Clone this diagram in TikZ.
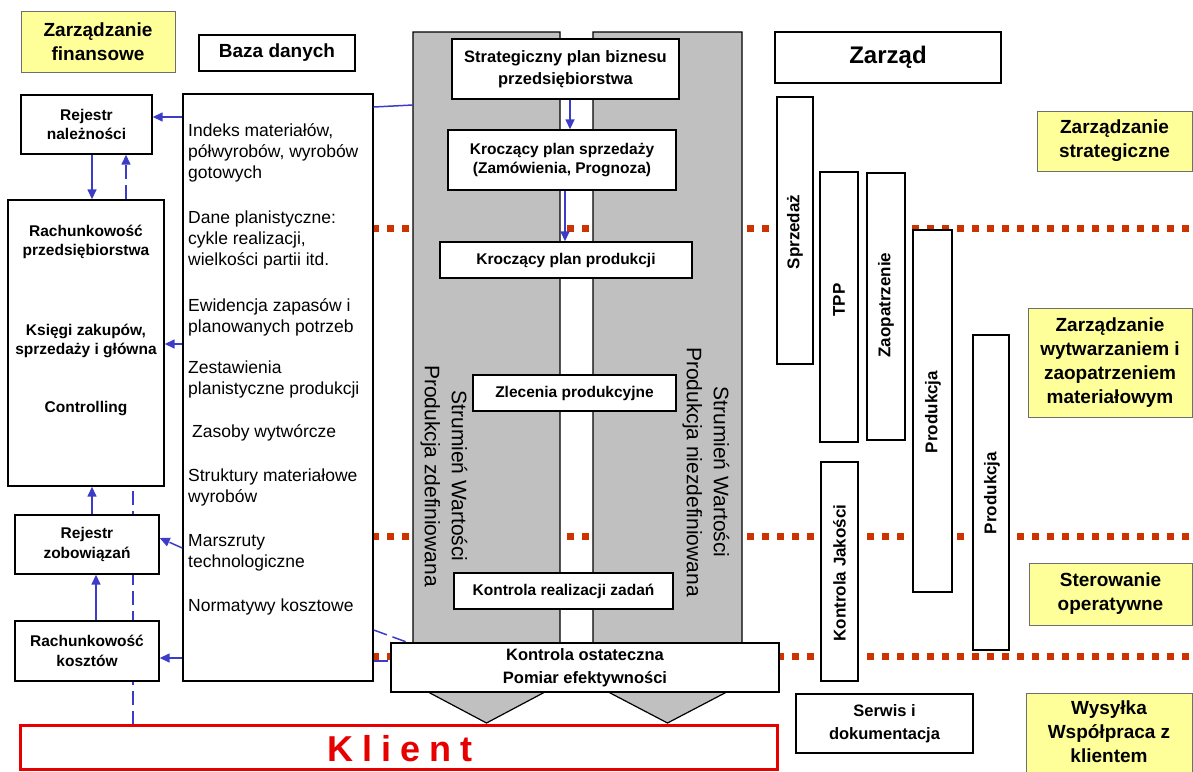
\documentclass[tikz,border=0pt]{standalone}
\usepackage{fontspec}
\setmainfont{Liberation Sans}
\usetikzlibrary{arrows.meta,calc}
\definecolor{yfill}{RGB}{255,255,153}
\definecolor{ybord}{RGB}{110,110,110}
\definecolor{gfill}{RGB}{192,192,192}
\definecolor{bline}{RGB}{60,60,200}
\definecolor{rdot}{RGB}{204,51,0}
\definecolor{kred}{RGB}{230,0,0}
\newcommand\fBig{\fontsize{19}{24}\selectfont\bfseries}
\newcommand\fLbl{\fontsize{15.5}{19.5}\selectfont\bfseries}
\newcommand\fMid{\fontsize{16.5}{22.5}\selectfont\bfseries}
\newcommand\fList{\fontsize{17.5}{21}\selectfont}
\newcommand\fStream{\fontsize{21}{27}\selectfont}
\newcommand\fRot{\fontsize{17}{20}\selectfont\bfseries}
\begin{document}
\begin{tikzpicture}[x=1pt,y=-1pt,
  box/.style={draw=black, fill=white, line width=1.4pt, inner sep=0pt, align=center},
  yellowbox/.style={draw=ybord, fill=yfill, line width=1pt, inner sep=0pt, align=center, font=\fBig},
  graybody/.style={draw=black, fill=gfill, line width=1.2pt, line join=miter},
  reddots/.style={draw=rdot, line width=7pt, dash pattern=on 7pt off 8pt},
  blarrow/.style={draw=bline, line width=1.5pt, -{Triangle[length=10pt,width=9pt]}},
  bldashed/.style={draw=bline, line width=1.5pt, dash pattern=on 14pt off 6pt},
  bldasharrow/.style={bldashed, -{Triangle[length=10pt,width=9pt]}},
  blline/.style={draw=bline, line width=1.5pt}
]
\useasboundingbox (0,0) rectangle (1193,771);

% red dotted level lines
\foreach \yy in {228,536,656} \draw[reddots] (372,\yy) -- (1193,\yy);

% dashed line from Klient up to accounting (behind boxes)
\coordinate (kdash) at (133,725);
\coordinate (rdash) at (133,486);
\draw[bldashed] (kdash) -- (rdash);

% value streams
\draw[graybody] (413,32) -- (560,32) -- (560,684) -- (486.5,723) -- (413,684) -- cycle;
\draw[graybody] (593,32) -- (742,32) -- (742,684) -- (667.5,723) -- (593,684) -- cycle;
\coordinate (glw) at (413,105);
\node[rotate=-90, font=\fStream, align=center] (sL) at (444,476) {Strumień Wartości\\Produkcja zdefiniowana};
\node[rotate=-90, font=\fStream, align=center] (sR) at (706,472) {Strumień Wartości\\Produkcja niezdefiniowana};

% left column
\node[yellowbox, minimum width=154pt, minimum height=61pt] (finz) at (98,41.5) {Zarządzanie\\finansowe};
\node[box, font=\fBig, minimum width=156pt, minimum height=36pt] (bazat) at (277,53) {Baza danych};
\node[box, font=\fLbl, minimum width=131pt, minimum height=59pt] (rnal) at (86.5,124.5) {Rejestr\\należności};
\node[box, minimum width=156pt, minimum height=286pt] (rprz) at (86,343) {};
\node[font=\fLbl, align=center] (rprzA) at (86,242) {Rachunkowość\\przedsiębiorstwa};
\node[font=\fLbl, align=center] (rprzB) at (86,341) {Księgi zakupów,\\sprzedaży i główna};
\node[font=\fLbl, align=center] (rprzC) at (86,409) {Controlling};
\node[box, font=\fLbl, minimum width=144pt, minimum height=59pt] (rzob) at (87,544.5) {Rejestr\\zobowiązań};
\node[box, font=\fLbl, minimum width=144pt, minimum height=60pt] (rkos) at (87,651) {Rachunkowość\\kosztów};

\node[box, minimum width=190pt, minimum height=587pt] (baza) at (278,387.5) {};
\begin{scope}[every node/.style={anchor=west, font=\fList, align=left, inner sep=0pt}]
\node (l1) at (188,153) {Indeks materiałów,\\półwyrobów, wyrobów\\gotowych};
\node (l2) at (188,239.5) {Dane planistyczne:\\cykle realizacji,\\wielkości partii itd.};
\node (l3) at (188,317) {Ewidencja zapasów i\\planowanych potrzeb};
\node (l4) at (188,379) {Zestawienia\\planistyczne produkcji};
\node (l5) at (192,433) {Zasoby wytwórcze};
\node (l6) at (188,487.5) {Struktury materiałowe\\wyrobów};
\node (l7) at (188,553) {Marszruty\\technologiczne};
\node (l8) at (188,607) {Normatywy kosztowe};
\end{scope}

% central process boxes
\node[box, font=\fMid, minimum width=227pt, minimum height=60pt] (strat) at (565.5,69) {Strategiczny plan biznesu\\przedsiębiorstwa};
\node[box, font=\fLbl, minimum width=228pt, minimum height=60pt] (ksprz) at (562,160) {Kroczący plan sprzedaży\\(Zamówienia, Prognoza)};
\node[box, font=\fLbl, minimum width=252pt, minimum height=36pt] (kprod) at (566,260) {Kroczący plan produkcji};
\node[box, font=\fLbl, minimum width=203pt, minimum height=36pt] (zlec) at (574.5,393) {Zlecenia produkcyjne};
\node[box, font=\fLbl, minimum width=219pt, minimum height=36pt] (kreal) at (563.5,591) {Kontrola realizacji zadań};
\node[box, font=\fMid, minimum width=388pt, minimum height=49pt] (kost) at (585,667.5) {Kontrola ostateczna\\Pomiar efektywności};

% client
\node[draw=kred, line width=3pt, fill=white, minimum width=757pt, minimum height=44pt, inner sep=0pt] (klient) at (398.5,747) {};
\node[font=\fontsize{36}{40}\selectfont\bfseries, text=kred, inner sep=0pt] (kltxt) at (400,749) {K\hspace{9pt}l\hspace{9pt}i\hspace{9pt}e\hspace{9pt}n\hspace{9pt}t};

% right column
\node[box, line width=2.8pt, font=\fontsize{24}{28}\selectfont\bfseries, minimum width=226pt, minimum height=51pt] (zarzad) at (888,57.5) {Zarząd};
\node[box, minimum width=36pt, minimum height=267pt] (sprz) at (795,230.5) {};
\node[box, minimum width=38pt, minimum height=270pt] (tpp) at (839,307) {};
\node[box, minimum width=38pt, minimum height=267pt] (zaop) at (886,306.5) {};
\node[box, minimum width=39pt, minimum height=362pt] (prod1) at (932.5,411) {};
\node[box, minimum width=36pt, minimum height=315pt] (prod2) at (991,492.5) {};
\node[box, minimum width=37pt, minimum height=219pt] (kjak) at (839.5,571.5) {};
\node[rotate=90, font=\fRot] (sprzT) at (795,232) {Sprzedaż};
\node[rotate=90, font=\fRot] (tppT) at (839,300) {TPP};
\node[rotate=90, font=\fRot] (zaopT) at (886,305) {Zaopatrzenie};
\node[rotate=90, font=\fRot] (prod1T) at (933,412) {Produkcja};
\node[rotate=90, font=\fRot] (prod2T) at (992,493) {Produkcja};
\node[rotate=90, font=\fRot] (kjakT) at (839.5,573) {Kontrola Jakości};
\node[box, font=\fMid, minimum width=177pt, minimum height=59pt] (serwis) at (884.5,723.5) {Serwis i\\dokumentacja};

\node[yellowbox, minimum width=155pt, minimum height=60pt] (zstrat) at (1114.5,141) {Zarządzanie\\strategiczne};
\node[yellowbox, minimum width=164pt, minimum height=109pt] (zwyt) at (1110,362.5) {Zarządzanie\\wytwarzaniem i\\zaopatrzeniem\\materiałowym};
\node[yellowbox, minimum width=163pt, minimum height=62pt] (ster) at (1110.5,594) {Sterowanie\\operatywne};
\node[yellowbox, minimum width=166pt, minimum height=82pt] (wys) at (1109,734) {};
\node[font=\fBig, align=center] (wysT) at (1109,732) {Wysyłka\\Współpraca z\\klientem};

% connectors
\draw[blline] (baza.east |- 0,107) -- (glw);
\draw[blarrow] (baza.west |- 0,117) -- (rnal.east |- 0,117);
\draw[blarrow] (rnal.south -| 92,0) -- (rprz.north -| 92,0);
\draw[bldasharrow] (rprz.north -| 126,0) -- (rnal.south -| 126,0);
\draw[blarrow] (baza.west |- 0,344) -- (rprz.east |- 0,344);
\draw[blarrow] (rzob.north -| 92,0) -- (rprz.south -| 92,0);
\draw[bldasharrow] (baza.west |- 0,548) -- (rzob.east |- 0,538);
\draw[blarrow] (rkos.north -| 96,0) -- (rzob.south -| 96,0);
\draw[blarrow] (baza.west |- 0,658) -- (rkos.east |- 0,658);
\draw[bldashed] (baza.east |- 0,630) -- ($(kost.north west)+(17,0)$);
\draw[bldashed] (baza.east |- 0,661) -- (kost.west |- 0,661);
\draw[blarrow] (strat.south -| 570,0) -- (ksprz.north -| 570,0);
\draw[blarrow] (ksprz.south -| 565,0) -- (kprod.north -| 565,0);
\end{tikzpicture}
\end{document}
